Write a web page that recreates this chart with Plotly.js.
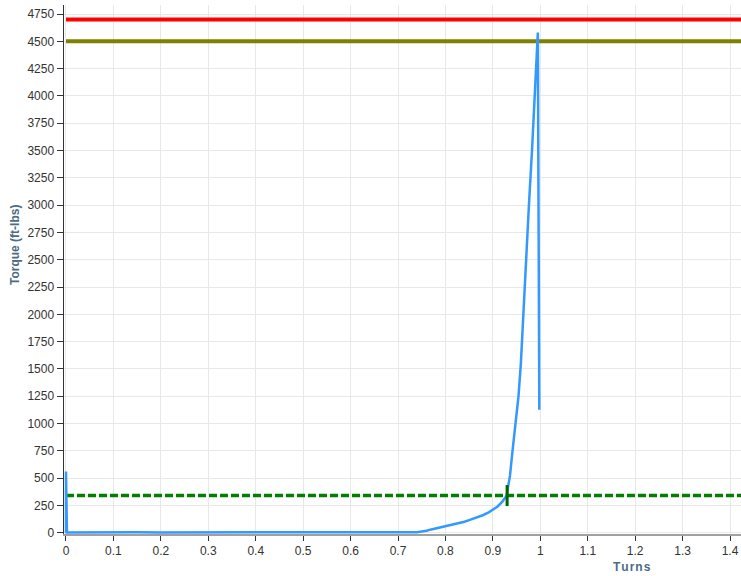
<!DOCTYPE html>
<html>
<head>
<meta charset="utf-8">
<script src="https://cdn.plot.ly/plotly-3.0.1.min.js"></script>
<style>
  html, body { margin: 0; padding: 0; background: #ffffff; }
  #chart { width: 741px; height: 576px; }
</style>
</head>
<body>
<div id="chart"></div>
<script>
// Torque curve (Turns vs Torque ft-lbs)
var turns = [0, 0, 0.002, 0.03, 0.06, 0.1, 0.15, 0.2, 0.25, 0.3, 0.34, 0.37, 0.385, 0.40, 0.45, 0.5, 0.55, 0.6, 0.65, 0.7, 0.72, 0.74, 0.75, 0.76, 0.77, 0.78, 0.79, 0.8, 0.81, 0.82, 0.83, 0.84, 0.85, 0.86, 0.87, 0.88, 0.89, 0.9, 0.91, 0.92, 0.929, 0.932, 0.936, 0.9414, 0.9467, 0.950, 0.954, 0.959, 0.9635, 0.9699, 0.976, 0.9825, 0.9888, 0.9948, 0.9979];
var torque = [0, 560, 2, 1, 2, 1, 3, 2, 4, 3, 5, 7, 11, 5, 3, 2, 4, 3, 2, 3, 3, 5, 10, 18, 30, 40, 47, 55, 63, 75, 88, 100, 115, 130, 145, 162, 183, 210, 240, 285, 338, 420, 520, 750, 960, 1100, 1250, 1550, 1950, 2500, 3000, 3500, 4000, 4580, 1125];

// Reference levels
var lineX = [0, 1.5];
var redLevel = [4700, 4700];
var oliveLevel = [4500, 4500];
var greenLevel = [340, 340];

// Crossing marker
var crossX = [0.930];
var crossY = [340];

var xTicks = [0, 0.1, 0.2, 0.3, 0.4, 0.5, 0.6, 0.7, 0.8, 0.9, 1, 1.1, 1.2, 1.3, 1.4];
var xTickText = ["0", "0.1", "0.2", "0.3", "0.4", "0.5", "0.6", "0.7", "0.8", "0.9", "1", "1.1", "1.2", "1.3", "1.4"];

var traces = [
  { x: lineX, y: redLevel, mode: 'lines', line: { color: '#ff0000', width: 4 }, hoverinfo: 'skip' },
  { x: lineX, y: oliveLevel, mode: 'lines', line: { color: '#808000', width: 4 }, hoverinfo: 'skip' },
  { x: lineX, y: greenLevel, mode: 'lines', line: { color: '#008000', width: 3.5, dash: '8px,3px' }, hoverinfo: 'skip' },
  { x: turns, y: torque, mode: 'lines', line: { color: '#3399ff', width: 2.5 } },
  { x: crossX, y: crossY, mode: 'markers', marker: { symbol: 'line-ns', size: 15, line: { color: '#006400', width: 3 } } }
];

var tickFont = { family: 'Arial, "Liberation Sans", sans-serif', size: 12, color: '#333333' };
var titleColor = '#4b6c84';

var layout = {
  width: 741,
  height: 576,
  margin: { l: 64, r: 0, t: 5, b: 42 },
  paper_bgcolor: '#ffffff',
  plot_bgcolor: '#ffffff',
  showlegend: false,
  xaxis: {
    range: [-0.0042, 1.4231],
    tickvals: xTicks,
    ticktext: xTickText,
    ticks: 'outside',
    ticklen: 5,
    tickcolor: '#333333',
    tickfont: tickFont,
    showgrid: true,
    gridcolor: '#e8e8e8',
    gridwidth: 1,
    zeroline: false,
    showline: true,
    linecolor: '#a0a0a0',
    linewidth: 2
  },
  yaxis: {
    range: [-12, 4833],
    tick0: 0,
    dtick: 250,
    ticks: 'outside',
    ticklen: 6,
    tickcolor: '#333333',
    tickfont: tickFont,
    showgrid: true,
    gridcolor: '#e8e8e8',
    gridwidth: 1,
    zeroline: false,
    showline: true,
    linecolor: '#333333',
    linewidth: 1.5
  },
  annotations: [
    { text: 'Torque (ft-lbs)', xref: 'paper', yref: 'paper', x: -0.0724, y: 0.5463, xanchor: 'center', yanchor: 'middle', textangle: -90, showarrow: false,
      font: { family: 'Arial, "Liberation Sans", sans-serif', size: 12, color: titleColor, weight: 'bold' } },
    { text: 'T\u200Au\u200Ar\u200An\u200As', xref: 'paper', yref: 'paper', x: 0.8383, y: -0.0624, xanchor: 'center', yanchor: 'middle', showarrow: false,
      font: { family: 'Arial, "Liberation Sans", sans-serif', size: 12, color: titleColor, weight: 'bold' } }
  ]
};

Plotly.newPlot('chart', traces, layout, { displayModeBar: false, staticPlot: true });
</script>
</body>
</html>
